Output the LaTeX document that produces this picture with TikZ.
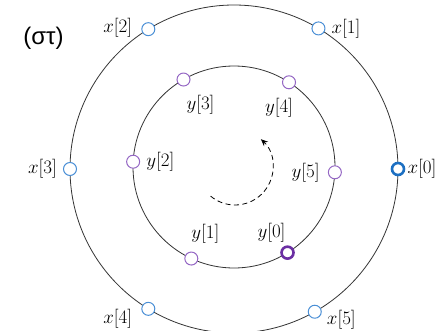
\RequirePackage{fix-cm}
\documentclass[tikz,border=0pt]{standalone}
\usepackage{fontspec}
\newfontfamily\sansgr{Liberation Sans}
\usetikzlibrary{arrows.meta,calc}
\definecolor{xblue}{HTML}{4A8FD6}
\definecolor{xdark}{HTML}{1C6FC2}
\definecolor{ypurp}{HTML}{9466C4}
\definecolor{ydark}{HTML}{6B2FA3}
\begin{document}
\begin{tikzpicture}[x=1pt,y=1pt,
  ring/.style={line width=0.8pt, black!80},
  vtx/.style={circle, fill=white, inner sep=0pt, minimum size=13pt, line width=1pt},
  xv/.style={vtx, draw=xblue},
  yv/.style={vtx, draw=ypurp},
  xvz/.style={vtx, draw=xdark, line width=2.6pt, minimum size=12pt},
  yvz/.style={vtx, draw=ydark, line width=2.6pt, minimum size=12pt},
  lbl/.style={inner sep=1pt, font=\fontsize{19}{21}\selectfont},
  turn/.style={line width=0.8pt, dash pattern=on 5pt off 3.5pt, -{Stealth[length=7pt,width=6pt]}}]
\useasboundingbox (0,0) rectangle (444,330);
\clip (0,0) rectangle (444,330);
\coordinate (co) at (234,161);
\coordinate (ci) at (234,163);
\coordinate (cd) at (235,163);
\draw[ring] (co) circle[radius=164];
\draw[ring] (ci) circle[radius=101];

\node[xvz] (x0) at ($(co)+(0:164)$) {};
\node[xv] (x1) at ($(co)+(59:164)$) {};
\node[xv] (x2) at ($(co)+(121.5:164)$) {};
\node[xv] (x3) at ($(co)+(180:164)$) {};
\node[xv] (x4) at ($(co)+(-121.5:164)$) {};
\node[xv] (x5) at ($(co)+(-60.5:164)$) {};

\node[yvz] (y0) at ($(ci)+(-58:101)$) {};
\node[yv] (y1) at ($(ci)+(-115:101)$) {};
\node[yv] (y2) at ($(ci)+(177:101)$) {};
\node[yv] (y3) at ($(ci)+(120:101)$) {};
\node[yv] (y4) at ($(ci)+(57:101)$) {};
\node[yv] (y5) at ($(ci)+(-3:101)$) {};

\node[lbl, anchor=west] (lx0) at ([xshift=1pt]x0.east) {$x[0]$};
\node[lbl, anchor=west] (lx1) at ([xshift=5pt]x1.east) {$x[1]$};
\node[lbl, anchor=east] (lx2) at ([xshift=-8pt,yshift=1pt]x2.west) {$x[2]$};
\node[lbl, anchor=east] (lx3) at ([xshift=-5pt]x3.west) {$x[3]$};
\node[lbl, anchor=east] (lx4) at ([xshift=-8pt,yshift=-10pt]x4.west) {$x[4]$};
\node[lbl, anchor=west] (lx5) at ([xshift=4pt,yshift=-8pt]x5.east) {$x[5]$};

\node[lbl, anchor=south] (ly0) at ([xshift=-16pt,yshift=2pt]y0.north) {$y[0]$};
\node[lbl, anchor=south] (ly1) at ([xshift=14pt,yshift=7pt]y1.north) {$y[1]$};
\node[lbl, anchor=west] (ly2) at ([xshift=5pt]y2.east) {$y[2]$};
\node[lbl, anchor=north] (ly3) at ([xshift=17pt,yshift=-8pt]y3.south) {$y[3]$};
\node[lbl, anchor=north] (ly4) at ([xshift=-10pt,yshift=-8pt]y4.south) {$y[4]$};
\node[lbl, anchor=east] (ly5) at ([xshift=-7pt]y5.west) {$y[5]$};

\node[font=\sansgr\fontsize{24}{27}\selectfont, inner sep=0pt] (title) at (43.5,291.5) {(στ)};

\draw[turn] ($(cd)+(-130:38)$) arc[start angle=-130, end angle=47, radius=38];
\end{tikzpicture}
\end{document}
